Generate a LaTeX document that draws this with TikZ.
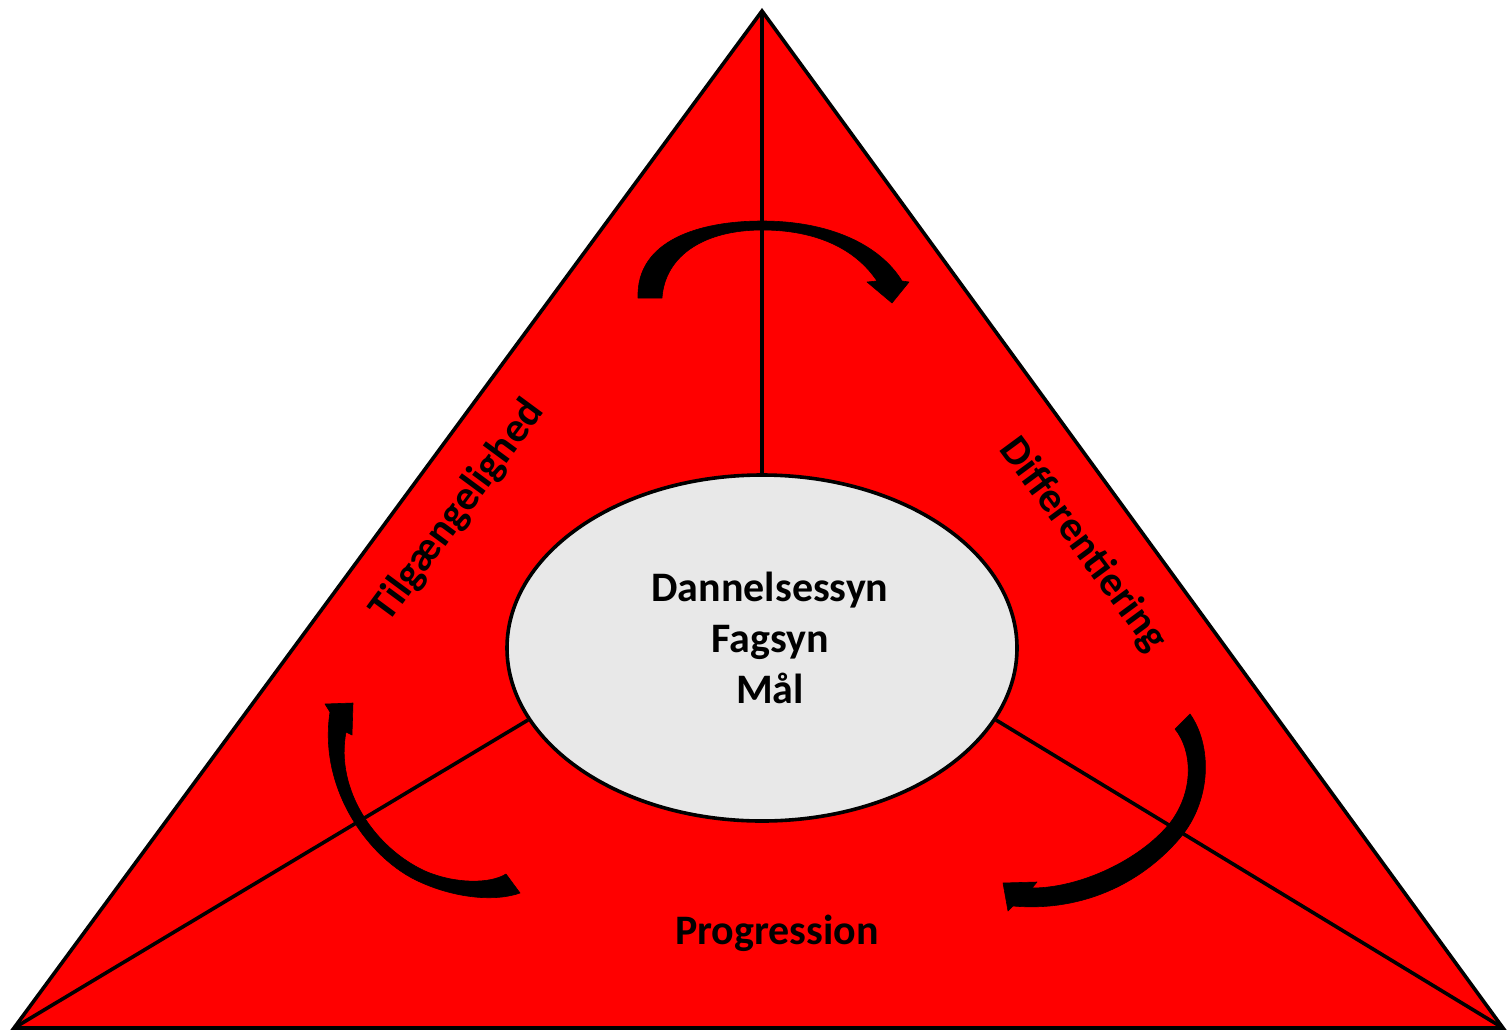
\documentclass[tikz,border=0pt]{standalone}
\usepackage{fontspec}
\setmainfont{Carlito}
\usetikzlibrary{shapes.geometric}
\begin{document}
\begin{tikzpicture}[x=1pt,y=-1pt,
  edge/.style={draw=black,line width=3.6pt},
  arrowshape/.style={fill=black,draw=black,line width=0.6pt,line join=round},
  lbl/.style={font=\bfseries\fontsize{42}{51}\selectfont,text=black,inner sep=0pt}]
\useasboundingbox (0,0) rectangle (1507,1031);
% triangle
\coordinate (apex) at (762,11);
\coordinate (bl) at (14,1028);
\coordinate (br) at (1503,1028);
\path[fill={rgb,255:red,255;green,0;blue,0}] (apex) -- (bl) -- (br) -- cycle;
% spokes
\coordinate (etop) at (762,478);
\coordinate (eleft) at (528,720);
\coordinate (eright) at (996,720);
\draw[edge] (apex) -- (etop);
\draw[edge] (bl) -- (eleft);
\draw[edge] (br) -- (eright);
\draw[edge,line join=miter] (apex) -- (bl) -- (br) -- cycle;
% ellipse
\node[ellipse,draw=black,line width=3.6pt,fill={rgb,255:red,232;green,232;blue,232},minimum width=510pt,minimum height=346pt,inner sep=0pt] (ell) at (762,648) {};
% top arrow
\path[arrowshape] (638,298) .. controls (636,240) and (700,221) .. (762,221)
  .. controls (830,221) and (880,245) .. (902,281)
  -- (909,282) -- (892,303) -- (867,282) -- (877,281)
  .. controls (855,248) and (815,230) .. (762,230)
  .. controls (705,230) and (665,255) .. (662,298) -- cycle;
% left arrow
\path[arrowshape] (330,712) .. controls (318,790) and (370,860) .. (420,882)
  .. controls (455,898) and (495,902) .. (520,893)
  -- (506,874)
  .. controls (490,884) and (455,884) .. (425,871)
  .. controls (375,848) and (335,790) .. (346,732)
  -- (352,735) -- (353,703) -- (325,704) -- cycle;
% right arrow
\path[arrowshape] (1175,729) -- (1190,714)
  .. controls (1212,745) and (1212,800) .. (1180,838)
  .. controls (1140,885) and (1080,912) .. (1013,906)
  -- (1008,911) -- (1003,883) -- (1037,882) -- (1032,888)
  .. controls (1080,888) and (1140,860) .. (1170,823)
  .. controls (1195,790) and (1192,750) .. (1175,729) -- cycle;
% texts
\node[lbl,anchor=base] (t1) at (770,601) {Dannelsessyn};
\node[lbl,anchor=base] (t2) at (770,652) {Fagsyn};
\node[lbl,anchor=base] (t3) at (770,703) {Mål};
\node[lbl,anchor=base] (prog) at (777,944) {Progression};
\node[lbl,rotate=53.6] (tilg) at (458,511) {Tilgængelighed};
\node[lbl,rotate=-53.6] (diff) at (1083,545) {Differentiering};
\end{tikzpicture}
\end{document}
